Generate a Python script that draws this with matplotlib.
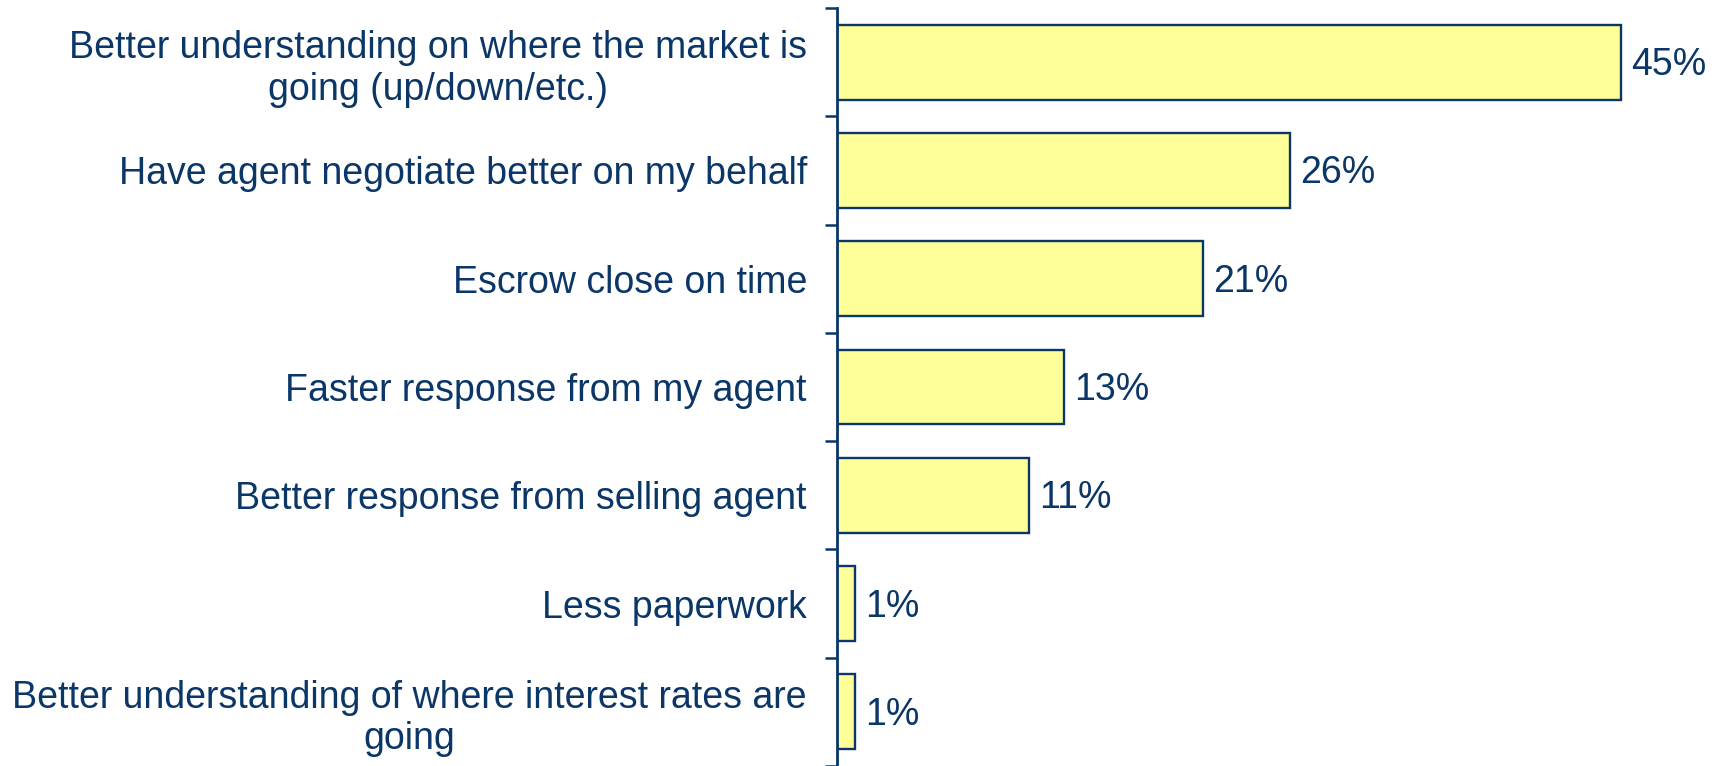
import numpy as np
import matplotlib
matplotlib.use("Agg")
from matplotlib import pyplot as plt
from matplotlib.ticker import FixedLocator

categories = [
    "Better understanding on where the market is\ngoing (up/down/etc.)",
    "Have agent negotiate better on my behalf",
    "Escrow close on time",
    "Faster response from my agent",
    "Better response from selling agent",
    "Less paperwork",
    "Better understanding of where interest rates are\ngoing",
]
values = [45, 26, 21, 13, 11, 1, 1]
value_labels = ["45%", "26%", "21%", "13%", "11%", "1%", "1%"]

navy = "#0A3668"
fill = "#FFFF99"

plt.rcParams["font.family"] = ["Liberation Sans", "DejaVu Sans"]

fig = plt.figure(figsize=(17.24, 7.66), dpi=100)
ax = fig.add_axes([837.5 / 1724, 0.0, 870.6 / 1724, 758 / 766])

y = np.arange(len(categories))
ax.barh(y, values, height=0.69, color=fill, edgecolor=navy, linewidth=1.7, zorder=2)

# percentage labels just past the end of each bar
for yi, v, lab in zip(y, values, value_labels):
    ax.annotate(lab, (v, yi), xytext=(10, -3), textcoords="offset pixels",
                ha="left", va="center", fontsize=27, color=navy)

ax.set_xlim(0, 50)
ax.set_ylim(len(categories) - 0.5, -0.5)

ax.set_yticks(y)
ax.set_yticklabels(categories)
for t in ax.get_yticklabels():
    t.set_multialignment("center")
# short ticks sit between categories, labels stay at bar centres
ax.yaxis.set_minor_locator(FixedLocator(np.arange(len(categories) + 1) - 0.5))
ax.tick_params(axis="y", which="major", length=0, pad=22, labelsize=27, labelcolor=navy)
ax.tick_params(axis="y", which="minor", length=9, width=1.8, color=navy)

ax.set_xticks([])
for side in ["top", "right", "bottom"]:
    ax.spines[side].set_visible(False)
ax.spines["left"].set_color(navy)
ax.spines["left"].set_linewidth(2.0)

fig.savefig("out.png", dpi=100)
